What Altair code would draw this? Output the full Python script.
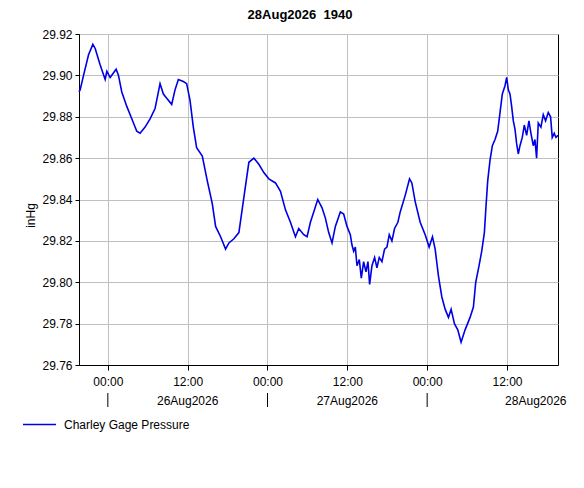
import altair as alt
import pandas as pd

# ---- data (UTC timestamps, inHg) ----
times = [
    "2026-08-25T19:40", "2026-08-25T19:50", "2026-08-25T20:21", "2026-08-25T21:06",
    "2026-08-25T21:45", "2026-08-25T22:06", "2026-08-25T22:51", "2026-08-25T23:36",
    "2026-08-25T23:51", "2026-08-26T00:21", "2026-08-26T01:15", "2026-08-26T01:36",
    "2026-08-26T02:06", "2026-08-26T02:51", "2026-08-26T03:36", "2026-08-26T04:21",
    "2026-08-26T04:51", "2026-08-26T05:36", "2026-08-26T06:21", "2026-08-26T07:06",
    "2026-08-26T07:51", "2026-08-26T08:21", "2026-08-26T08:51", "2026-08-26T09:36",
    "2026-08-26T10:06", "2026-08-26T10:36", "2026-08-26T11:21", "2026-08-26T11:51",
    "2026-08-26T12:21", "2026-08-26T12:51", "2026-08-26T13:21", "2026-08-26T14:12",
    "2026-08-26T14:57", "2026-08-26T15:42", "2026-08-26T16:12", "2026-08-26T16:57",
    "2026-08-26T17:42", "2026-08-26T18:12", "2026-08-26T18:57", "2026-08-26T19:42",
    "2026-08-26T20:27", "2026-08-26T21:12", "2026-08-26T21:57", "2026-08-26T22:42",
    "2026-08-26T23:27", "2026-08-27T00:12", "2026-08-27T01:12", "2026-08-27T01:57",
    "2026-08-27T02:42", "2026-08-27T03:27", "2026-08-27T04:12", "2026-08-27T04:42",
    "2026-08-27T05:27", "2026-08-27T05:57", "2026-08-27T06:27", "2026-08-27T06:57",
    "2026-08-27T07:33", "2026-08-27T08:12", "2026-08-27T08:42", "2026-08-27T09:12",
    "2026-08-27T09:42", "2026-08-27T10:12", "2026-08-27T10:57", "2026-08-27T11:27",
    "2026-08-27T11:57", "2026-08-27T12:27", "2026-08-27T12:42", "2026-08-27T12:57",
    "2026-08-27T13:12", "2026-08-27T13:27", "2026-08-27T13:48", "2026-08-27T14:06",
    "2026-08-27T14:27", "2026-08-27T14:48", "2026-08-27T15:06", "2026-08-27T15:21",
    "2026-08-27T15:42", "2026-08-27T16:06", "2026-08-27T16:27", "2026-08-27T16:48",
    "2026-08-27T17:12", "2026-08-27T17:36", "2026-08-27T17:57", "2026-08-27T18:18",
    "2026-08-27T18:42", "2026-08-27T19:06", "2026-08-27T19:36", "2026-08-27T19:57",
    "2026-08-27T20:42", "2026-08-27T21:21", "2026-08-27T21:42", "2026-08-27T22:12",
    "2026-08-27T22:57", "2026-08-27T23:42", "2026-08-28T00:18", "2026-08-28T00:48",
    "2026-08-28T01:12", "2026-08-28T01:42", "2026-08-28T02:12", "2026-08-28T02:42",
    "2026-08-28T03:12", "2026-08-28T03:36", "2026-08-28T04:06", "2026-08-28T04:36",
    "2026-08-28T05:06", "2026-08-28T05:42", "2026-08-28T06:27", "2026-08-28T06:57",
    "2026-08-28T07:18", "2026-08-28T07:48", "2026-08-28T08:12", "2026-08-28T08:36",
    "2026-08-28T08:51", "2026-08-28T09:06", "2026-08-28T09:27", "2026-08-28T09:48",
    "2026-08-28T10:12", "2026-08-28T10:36", "2026-08-28T10:57", "2026-08-28T11:18",
    "2026-08-28T11:42", "2026-08-28T11:57", "2026-08-28T12:12", "2026-08-28T12:27",
    "2026-08-28T12:42", "2026-08-28T12:57", "2026-08-28T13:12", "2026-08-28T13:27",
    "2026-08-28T13:42", "2026-08-28T13:57", "2026-08-28T14:18", "2026-08-28T14:36",
    "2026-08-28T14:57", "2026-08-28T15:18", "2026-08-28T15:36", "2026-08-28T15:57",
    "2026-08-28T16:12", "2026-08-28T16:27", "2026-08-28T16:42", "2026-08-28T17:06",
    "2026-08-28T17:27", "2026-08-28T17:48", "2026-08-28T18:12", "2026-08-28T18:33",
    "2026-08-28T18:48", "2026-08-28T19:06", "2026-08-28T19:21", "2026-08-28T19:40",
]
pressure = [
    29.892, 29.893, 29.900, 29.910,
    29.915, 29.913, 29.905, 29.898,
    29.902, 29.899, 29.903, 29.900,
    29.892, 29.885, 29.879, 29.873,
    29.872, 29.875, 29.879, 29.884,
    29.896, 29.891, 29.889, 29.886,
    29.893, 29.898, 29.897, 29.896,
    29.888, 29.875, 29.865, 29.861,
    29.849, 29.838, 29.827, 29.822,
    29.816, 29.819, 29.821, 29.824,
    29.841, 29.858, 29.860, 29.857,
    29.853, 29.850, 29.848, 29.844,
    29.835, 29.829, 29.822, 29.826,
    29.823, 29.822, 29.829, 29.834,
    29.840, 29.836, 29.831, 29.824,
    29.819, 29.827, 29.834, 29.833,
    29.827, 29.823, 29.818, 29.815,
    29.817, 29.808, 29.811, 29.802,
    29.810, 29.805, 29.810, 29.799,
    29.808, 29.812, 29.807, 29.812,
    29.810, 29.816, 29.817, 29.823,
    29.820, 29.826, 29.829, 29.834,
    29.842, 29.850, 29.848, 29.839,
    29.829, 29.823, 29.817, 29.822,
    29.816, 29.803, 29.793, 29.787,
    29.783, 29.787, 29.780, 29.777,
    29.771, 29.777, 29.783, 29.788,
    29.800, 29.808, 29.815, 29.824,
    29.837, 29.849, 29.859, 29.866,
    29.869, 29.873, 29.882, 29.891,
    29.895, 29.899, 29.893, 29.891,
    29.885, 29.878, 29.874, 29.867,
    29.862, 29.866, 29.870, 29.876,
    29.871, 29.878, 29.872, 29.866,
    29.869, 29.860, 29.877, 29.875,
    29.881, 29.878, 29.882, 29.880,
    29.870, 29.872, 29.870, 29.871,
]
series_name = "Charley Gage Pressure"
chart_title = "28Aug2026\u00a0 1940"

date_labels = ["26Aug2026", "27Aug2026", "28Aug2026"]
date_label_times = ["2026-08-26T12:00", "2026-08-27T12:00", "2026-08-28T16:20"]
day_starts = ["2026-08-26T00:00", "2026-08-27T00:00", "2026-08-28T00:00"]
y_ticks = [29.76, 29.78, 29.80, 29.82, 29.84, 29.86, 29.88, 29.90, 29.92]

df = pd.DataFrame({"time": [t + ":00Z" for t in times], "pressure": pressure,
                   "series": series_name})
df_dates = pd.DataFrame({"time": [t + ":00Z" for t in date_label_times], "label": date_labels})
df_days = pd.DataFrame({"time": [t + ":00Z" for t in day_starts]})
df_title = pd.DataFrame({"title": [chart_title]})

x_values = [alt.DateTime(year=2026, month=8, date=d, hours=h, utc=True)
            for d in (26, 27, 28) for h in (0, 12)]
x_scale = alt.Scale(
    type="utc",
    domain=[alt.DateTime(year=2026, month=8, date=25, hours=19, minutes=40, utc=True),
            alt.DateTime(year=2026, month=8, date=28, hours=19, minutes=40, utc=True)],
)

line = alt.Chart(df).mark_line(strokeWidth=1.6, interpolate="linear").encode(
    x=alt.X("time:T", scale=x_scale, title=None,
            axis=alt.Axis(values=x_values, format="%H:%M", grid=True,
                          tickSize=5, labelPadding=6)),
    y=alt.Y("pressure:Q", title="inHg",
            scale=alt.Scale(domain=[29.76, 29.92], nice=False, zero=False),
            axis=alt.Axis(values=y_ticks, format=".2f", tickSize=4, labelPadding=3,
                          titleAngle=-90, titleX=-49, titleY=181,
                          titleAlign="center", titleBaseline="middle")),
    color=alt.Color("series:N",
                    scale=alt.Scale(domain=[series_name], range=["#0000e6"]),
                    legend=alt.Legend(title=None, orient="none", legendX=-57, legendY=373,
                                      symbolType="stroke", symbolSize=1089,
                                      symbolStrokeWidth=1.3, labelFontSize=12,
                                      labelOffset=7, padding=0)),
)

day_text = alt.Chart(df_dates).mark_text(fontSize=12, baseline="alphabetic",
                                         align="center", color="black").encode(
    x=alt.X("time:T", scale=x_scale),
    y=alt.value(371),
    text="label:N",
)

day_ticks = alt.Chart(df_days).mark_rule(color="black", strokeWidth=1).encode(
    x=alt.X("time:T", scale=x_scale),
    y=alt.value(359),
    y2=alt.value(373),
)

title_text = alt.Chart(df_title).mark_text(fontSize=13, fontWeight="bold",
                                           baseline="alphabetic", align="center",
                                           color="black").encode(
    x=alt.value(221),
    y=alt.value(-15.5),
    text="title:N",
)

chart = alt.layer(line, day_text, day_ticks, title_text).properties(
    width=479,
    height=331,
    autosize=alt.AutoSizeParams(type="none"),
    padding={"left": 71, "top": 26, "right": 12, "bottom": 95},
).configure(
    font="Liberation Sans",
).configure_view(
    stroke="black", strokeWidth=1,
).configure_axis(
    domainColor="black", tickColor="black", gridColor="#c0c0c0", gridWidth=1,
    labelColor="black", titleColor="black", labelFontSize=12, titleFontSize=12,
    titleFontWeight="normal", labelFont="Liberation Sans", titleFont="Liberation Sans",
).configure_legend(
    labelColor="black", labelFont="Liberation Sans",
)

chart.save("out.html", embed_options={"renderer": "svg", "actions": False})
